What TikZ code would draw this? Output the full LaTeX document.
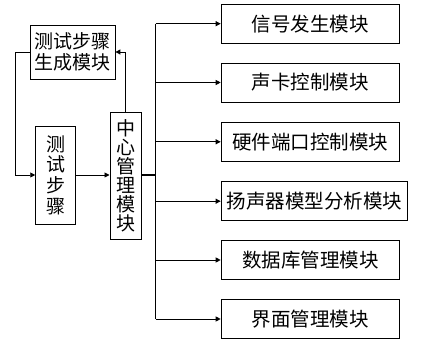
\documentclass[tikz,border=0pt]{standalone}
\usepackage{fontspec}
\newfontfamily\cjk{Noto Sans CJK SC}
\usetikzlibrary{arrows.meta}
\begin{document}
\begin{tikzpicture}[x=1pt,y=-1pt,
  box/.style={draw=black,line width=0.9pt,inner sep=0pt,font=\cjk\fontsize{19.5}{21}\selectfont,align=center},
  conn/.style={draw=black,line width=0.9pt,-{Triangle[length=5pt,width=5pt]}},
  plain/.style={draw=black,line width=0.9pt}]
\useasboundingbox (0,0) rectangle (424,344);
% left part
\node[box,minimum width=84.3pt,minimum height=54pt,font=\cjk\fontsize{19}{21.5}\selectfont] (gen) at (72.8,52) {测试步骤\\生成模块};
\node[box,minimum width=39.6pt,minimum height=98pt,font=\cjk\fontsize{19}{20.7}\selectfont] (steps) at (55.5,175) {测\\试\\步\\骤};
\node[box,minimum width=31.7pt,minimum height=127pt,font=\cjk\fontsize{19}{19}\selectfont] (ctr) at (125.8,175.5) {中\\心\\管\\理\\模\\块};
% right boxes
\node[box,minimum width=178.6pt,minimum height=39pt,anchor=west] (m1) at (220.7,23.7) {信号发生模块};
\node[box,minimum width=178.6pt,minimum height=39pt,anchor=west] (m2) at (220.7,82.5) {声卡控制模块};
\node[box,minimum width=178.6pt,minimum height=39pt,anchor=west] (m3) at (220.7,141.8) {硬件端口控制模块};
\node[box,minimum width=186.6pt,minimum height=39pt,anchor=west] (m4) at (220.7,201.2) {扬声器模型分析模块};
\node[box,minimum width=178.6pt,minimum height=39pt,anchor=west] (m5) at (220.7,260) {数据库管理模块};
\node[box,minimum width=178.6pt,minimum height=39pt,anchor=west] (m6) at (220.7,319) {界面管理模块};
% coordinates
\coordinate (bus) at (155.7,175);
\coordinate (loop) at (15.7,52);
% connectors
\draw[conn] (steps.east) -- (ctr.west |- steps.east);
\draw[conn] (ctr.north) |- (gen.east);
\draw[conn] (gen.west) -- (loop) |- (steps.west);
\draw[plain,line width=2pt] (ctr.east |- bus) -- (bus);
\draw[plain] (bus |- m1.west) -- (bus |- m6.west);
\foreach \m in {m1,m2,m3,m4,m5,m6}{
  \draw[conn] (bus |- \m.west) -- (\m.west);
}
\end{tikzpicture}
\end{document}
